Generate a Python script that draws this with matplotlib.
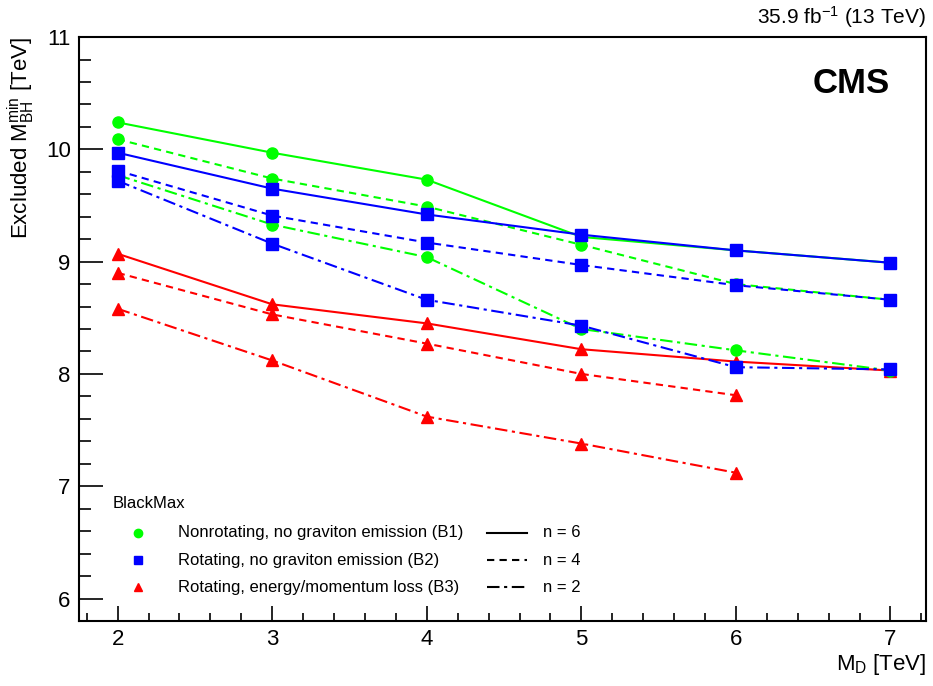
import matplotlib
matplotlib.use('Agg')
import matplotlib.pyplot as plt
from matplotlib.ticker import MultipleLocator

plt.rcParams['font.family'] = ['Liberation Sans', 'DejaVu Sans']
plt.rcParams['mathtext.fontset'] = 'custom'
plt.rcParams['mathtext.rm'] = 'Liberation Sans'
plt.rcParams['mathtext.it'] = 'Liberation Sans'

# M_D values (TeV)
md = [2, 3, 4, 5, 6, 7]
md_b3 = [2, 3, 4, 5, 6]

# B1: nonrotating, no graviton emission
b1_n6 = [10.24, 9.97, 9.73, 9.22, 9.10, 8.99]
b1_n4 = [10.09, 9.74, 9.49, 9.15, 8.80, 8.66]
b1_n2 = [9.77, 9.33, 9.04, 8.40, 8.21, 8.03]

# B2: rotating, no graviton emission
b2_n6 = [9.97, 9.65, 9.42, 9.24, 9.10, 8.99]
b2_n4 = [9.81, 9.41, 9.17, 8.97, 8.79, 8.66]
b2_n2 = [9.72, 9.16, 8.66, 8.43, 8.06, 8.04]

# B3: rotating, energy/momentum loss
b3_n6 = [9.07, 8.62, 8.45, 8.22, 8.11, 8.03]
b3_n4 = [8.90, 8.53, 8.27, 8.00, 7.81]
b3_n2 = [8.58, 8.12, 7.62, 7.38, 7.12]

model_labels = ['Nonrotating, no graviton emission (B1)',
                'Rotating, no graviton emission (B2)',
                'Rotating, energy/momentum loss (B3)']
n_labels = ['n = 6', 'n = 4', 'n = 2']

green = '#00ff00'
blue = '#0000ff'
red = '#ff0000'

solid = '-'
dashed = (0, (3.5, 2.5))
dashdot = (0, (6, 2.2, 1.5, 2.2))

fig = plt.figure(figsize=(9.33, 6.86), dpi=100)
ax = fig.add_axes([0.0847, 0.0948, 0.9078, 0.8512])

lw = 1.5
ms = 8

# draw B3 first, then B1, then B2 on top
ax.plot(md, b3_n6, color=red, ls=solid, lw=lw, marker='^', ms=ms)
ax.plot(md_b3, b3_n4, color=red, ls=dashed, lw=lw, marker='^', ms=ms)
ax.plot(md_b3, b3_n2, color=red, ls=dashdot, lw=lw, marker='^', ms=ms)

ax.plot(md, b1_n6, color=green, ls=solid, lw=lw, marker='o', ms=ms)
ax.plot(md, b1_n4, color=green, ls=dashed, lw=lw, marker='o', ms=ms)
ax.plot(md, b1_n2, color=green, ls=dashdot, lw=lw, marker='o', ms=ms)

ax.plot(md, b2_n6, color=blue, ls=solid, lw=lw, marker='s', ms=ms)
ax.plot(md, b2_n4, color=blue, ls=dashed, lw=lw, marker='s', ms=ms)
ax.plot(md, b2_n2, color=blue, ls=dashdot, lw=lw, marker='s', ms=ms)

ax.set_xlim(1.75, 7.23)
ax.set_ylim(5.8, 11)
ax.xaxis.set_major_locator(MultipleLocator(1))
ax.xaxis.set_minor_locator(MultipleLocator(0.2))
ax.yaxis.set_major_locator(MultipleLocator(1))
ax.yaxis.set_minor_locator(MultipleLocator(0.2))
ax.tick_params(axis='x', which='major', direction='in', length=11, width=1.2, labelsize=16, pad=6)
ax.tick_params(axis='x', which='minor', direction='in', length=5.5, width=1.2)
ax.tick_params(axis='y', which='major', direction='in', length=17, width=1.2, labelsize=16, pad=6)
ax.tick_params(axis='y', which='minor', direction='in', length=8.5, width=1.2)
for s in ax.spines.values():
    s.set_linewidth(1.5)

ax.set_xlabel(r'$\mathregular{M_D}$ [TeV]', fontsize=16, loc='right', labelpad=1)
ax.set_ylabel(r'Excluded $\mathregular{M_{BH}^{min}}$ [TeV]', fontsize=16, loc='top', labelpad=6)

ax.text(1.0, 1.012, r'35.9 fb$^{\mathregular{-1}}$ (13 TeV)', transform=ax.transAxes,
        ha='right', va='bottom', fontsize=15)
ax.text(0.957, 0.948, 'CMS', transform=ax.transAxes, ha='right', va='top',
        fontsize=25, fontweight='bold')

# legend drawn by hand (ROOT style, two columns)
ax.text(0.040, 0.202, 'BlackMax', transform=ax.transAxes, ha='left', va='center', fontsize=12)
rows = [0.151, 0.104, 0.058]
markers = [('o', green), ('s', blue), ('^', red)]
styles = [solid, dashed, dashdot]
for y, lab, (mk, c) in zip(rows, model_labels, markers):
    ax.plot([0.0697], [y], transform=ax.transAxes, marker=mk, color=c, ms=6, ls='none', clip_on=False)
    ax.text(0.117, y, lab, transform=ax.transAxes, ha='left', va='center', fontsize=12)
for y, lab, st in zip(rows, n_labels, styles):
    ax.plot([0.482, 0.529], [y, y], transform=ax.transAxes, color='black', ls=st, lw=lw)
    ax.text(0.548, y, lab, transform=ax.transAxes, ha='left', va='center', fontsize=12)

fig.savefig('out.png', dpi=100)
